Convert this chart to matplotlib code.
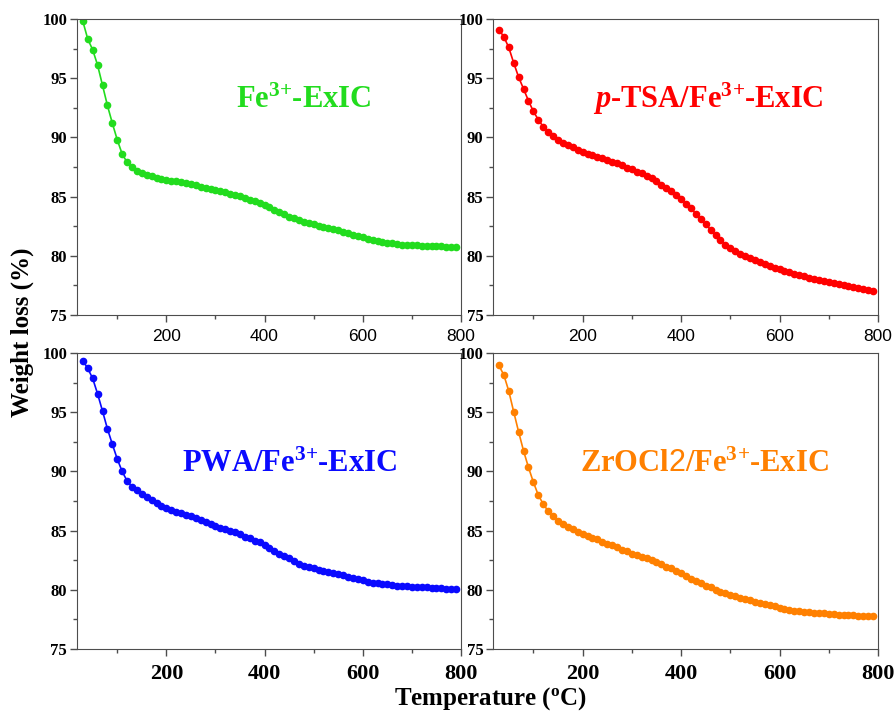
import matplotlib
matplotlib.use('Agg')
import matplotlib.pyplot as plt
from matplotlib.ticker import MultipleLocator

# TGA readings taken every 10 degC
temperature = [30, 40, 50, 60, 70, 80, 90, 100, 110, 120, 130, 140, 150, 160,
               170, 180, 190, 200, 210, 220, 230, 240, 250, 260, 270, 280,
               290, 300, 310, 320, 330, 340, 350, 360, 370, 380, 390, 400,
               410, 420, 430, 440, 450, 460, 470, 480, 490, 500, 510, 520,
               530, 540, 550, 560, 570, 580, 590, 600, 610, 620, 630, 640,
               650, 660, 670, 680, 690, 700, 710, 720, 730, 740, 750, 760,
               770, 780, 790]

fe_exic = [99.8, 98.3, 97.4, 96.1, 94.4, 92.7, 91.2, 89.8, 88.6, 87.9, 87.5,
           87.2, 87.0, 86.85, 86.7, 86.6, 86.5, 86.4, 86.35, 86.3, 86.2,
           86.15, 86.05, 85.95, 85.85, 85.75, 85.65, 85.55, 85.45, 85.35,
           85.25, 85.15, 85.05, 84.9, 84.75, 84.6, 84.45, 84.3, 84.1, 83.9,
           83.7, 83.5, 83.3, 83.15, 83.0, 82.85, 82.75, 82.65, 82.55, 82.45,
           82.35, 82.25, 82.15, 82.0, 81.9, 81.75, 81.65, 81.55, 81.45, 81.35,
           81.25, 81.15, 81.1, 81.05, 81.0, 80.95, 80.95, 80.9, 80.9, 80.85,
           80.85, 80.8, 80.8, 80.8, 80.75, 80.75, 80.75]

ptsa_exic = [99.1, 98.5, 97.6, 96.3, 95.1, 94.1, 93.1, 92.2, 91.5, 90.9,
             90.45, 90.1, 89.8, 89.55, 89.35, 89.15, 88.95, 88.75, 88.6, 88.5,
             88.35, 88.25, 88.1, 87.95, 87.8, 87.65, 87.45, 87.3, 87.1, 86.95,
             86.75, 86.55, 86.3, 86.0, 85.75, 85.45, 85.15, 84.8, 84.4, 84.0,
             83.55, 83.1, 82.65, 82.2, 81.75, 81.35, 80.95, 80.65, 80.4, 80.15,
             79.95, 79.8, 79.65, 79.45, 79.3, 79.15, 79.0, 78.85, 78.7, 78.6,
             78.45, 78.35, 78.25, 78.15, 78.05, 77.95, 77.85, 77.75, 77.7,
             77.6, 77.5, 77.45, 77.35, 77.3, 77.2, 77.1, 77.0]

pwa_exic = [99.35, 98.7, 97.85, 96.55, 95.1, 93.6, 92.3, 91.05, 90.0, 89.2,
            88.7, 88.4, 88.1, 87.8, 87.55, 87.3, 87.1, 86.9, 86.75, 86.6,
            86.45, 86.3, 86.2, 86.05, 85.9, 85.75, 85.55, 85.4, 85.25, 85.1,
            85.0, 84.85, 84.7, 84.5, 84.35, 84.15, 84.0, 83.8, 83.55, 83.3,
            83.05, 82.85, 82.65, 82.4, 82.2, 82.05, 81.9, 81.8, 81.7, 81.6,
            81.5, 81.4, 81.35, 81.25, 81.1, 81.0, 80.9, 80.8, 80.7, 80.6,
            80.55, 80.5, 80.45, 80.4, 80.35, 80.3, 80.3, 80.25, 80.2, 80.2,
            80.2, 80.15, 80.15, 80.15, 80.1, 80.1, 80.1]

zrocl2_exic = [98.95, 98.15, 96.8, 95.05, 93.35, 91.75, 90.35, 89.1, 88.0,
               87.25, 86.65, 86.2, 85.85, 85.55, 85.3, 85.1, 84.9, 84.7,
               84.55, 84.4, 84.25, 84.05, 83.9, 83.75, 83.6, 83.4, 83.25,
               83.05, 82.95, 82.8, 82.65, 82.5, 82.35, 82.15, 81.95, 81.8,
               81.6, 81.4, 81.2, 80.95, 80.75, 80.55, 80.35, 80.2, 80.0,
               79.85, 79.7, 79.55, 79.45, 79.3, 79.2, 79.1, 79.0, 78.9, 78.8,
               78.7, 78.6, 78.5, 78.4, 78.3, 78.25, 78.2, 78.15, 78.1, 78.05,
               78.0, 78.0, 77.95, 77.95, 77.9, 77.9, 77.85, 77.85, 77.8, 77.8,
               77.75, 77.75]

plt.rcParams['mathtext.fontset'] = 'custom'
plt.rcParams['mathtext.rm'] = 'Liberation Serif:bold'
plt.rcParams['mathtext.bf'] = 'Liberation Serif:bold'
plt.rcParams['mathtext.it'] = 'Liberation Serif:italic:bold'
plt.rcParams['mathtext.sf'] = 'Liberation Sans'

SERIF = 'Liberation Serif'
FRAME = '#4d4d4d'
ION = r'Fe$^{3\!+}\!$-ExIC'


def plot_panel(ax, values, color, label, label_pos, top_row):
    """Draw one TGA curve with its name written inside the frame."""
    ax.plot(temperature, values, color=color, marker='o', markersize=4.5,
            linewidth=1.2)
    ax.set_xlim(18, 800)
    ax.set_ylim(75, 100)
    ax.xaxis.set_major_locator(MultipleLocator(200))
    ax.xaxis.set_minor_locator(MultipleLocator(100))
    ax.yaxis.set_major_locator(MultipleLocator(5))
    ax.yaxis.set_minor_locator(MultipleLocator(2.5))
    ax.tick_params(which='both', direction='out', color=FRAME)
    ax.tick_params(which='major', length=5, width=1)
    ax.tick_params(which='minor', length=3, width=1)
    ax.tick_params(axis='y', pad=2)
    for spine in ax.spines.values():
        spine.set_color(FRAME)

    for lab in ax.get_yticklabels():
        lab.set_family(SERIF)
        lab.set_weight('bold')
        lab.set_fontsize(12)
    # top row was exported with sans tick labels, bottom row with serif
    if top_row:
        ax.tick_params(axis='x', pad=5)
        for lab in ax.get_xticklabels():
            lab.set_family('Liberation Sans')
            lab.set_fontsize(12.5)
    else:
        ax.tick_params(axis='x', pad=6)
        for lab in ax.get_xticklabels():
            lab.set_family(SERIF)
            lab.set_weight('bold')
            lab.set_fontsize(16)

    ax.text(label_pos[0], label_pos[1], label, transform=ax.transAxes,
            color=color, fontsize=22, fontweight='bold', family=SERIF,
            ha='left', va='baseline')


fig = plt.figure(figsize=(8.96, 7.11), dpi=100)
ax_tl = fig.add_axes([0.0859, 0.557, 0.4286, 0.4163])
ax_bl = fig.add_axes([0.0859, 0.0872, 0.4286, 0.4163])
ax_tr = fig.add_axes([0.5502, 0.557, 0.4297, 0.4163])
ax_br = fig.add_axes([0.5502, 0.0872, 0.4297, 0.4163])

plot_panel(ax_tl, fe_exic, '#22dc1e', ION, (0.414, 0.699), True)
plot_panel(ax_bl, pwa_exic, '#0a0aff', 'PWA/' + ION, (0.273, 0.598), False)
plot_panel(ax_tr, ptsa_exic, '#ff0000', r'$\mathit{p}$-TSA/' + ION,
           (0.261, 0.699), True)
plot_panel(ax_br, zrocl2_exic, '#ff8000', r'ZrOCl$\mathsf{2}$/' + ION,
           (0.227, 0.598), False)

fig.text(0.025, 0.533, 'Weight loss (%)', rotation=90, ha='center',
         va='center', family=SERIF, fontweight='bold', fontsize=18)
fig.text(0.547, 0.009, r'Temperature ($^{\mathrm{o}}$C)', ha='center',
         va='baseline', family=SERIF, fontweight='bold', fontsize=18)

fig.savefig('out.png', dpi=100)
plt.close()
